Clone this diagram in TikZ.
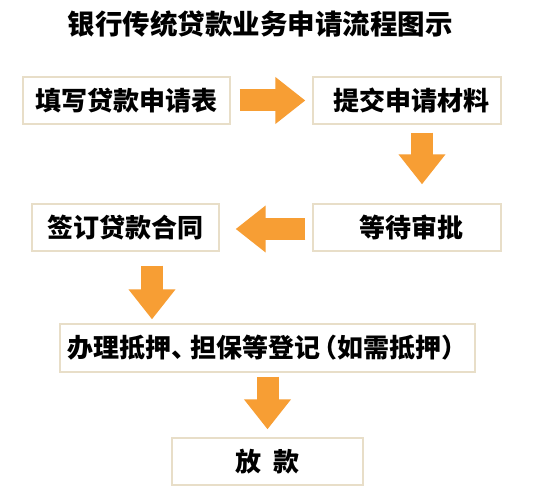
\documentclass[tikz,border=0pt]{standalone}
\usepackage{fontspec}
\setmainfont{Noto Sans CJK SC}
\usetikzlibrary{arrows.meta,calc}
\definecolor{boxline}{RGB}{232,222,200}
\definecolor{arroworange}{RGB}{247,158,52}
\begin{document}
\begin{tikzpicture}[x=1pt,y=-1pt,
  stepbox/.style={draw=boxline,line width=1.3pt,fill=white,inner sep=0pt,
    font=\fontsize{26}{30}\selectfont\bfseries},
  bigarrow/.style={draw=arroworange,line width=22pt,line cap=butt,
    -{Triangle[length=30pt,width=45pt,fill=arroworange]}}]
\useasboundingbox[fill=white] (0,0) rectangle (535,500);
\node[font=\fontsize{27.5}{32}\selectfont\bfseries] (title) at (260,24.5) {银行传统贷款业务申请流程图示};
\node[stepbox,minimum width=207pt,minimum height=47pt] (b1) at (126.5,100.5) {填写贷款申请表};
\node[stepbox,minimum width=188pt,minimum height=47pt] (b2) at (407,100.5) {\hspace*{8pt}提交申请材料};
\node[stepbox,minimum width=187pt,minimum height=47pt] (b3) at (125.5,227.5) {签订贷款合同};
\node[stepbox,minimum width=188pt,minimum height=47pt] (b4) at (407,227.5) {\hspace*{9pt}等待审批};
\node[stepbox,minimum width=415pt,minimum height=48pt] (b5) at (267.5,348) {办理抵押、\hspace{-0.3em}担保等登记\hspace{-0.35em}（如需抵押）\hspace{-0.2em}};
\node[stepbox,minimum width=191pt,minimum height=47pt] (b6) at (267.5,461.5) {放\hspace{0.45em}款};
\draw[bigarrow] ($(b1.east)+(9,0)$) -- ($(b2.west)+(-7,0)$);
\draw[bigarrow] ($(b2.south)+(15,8)$) -- ($(b4.north)+(15,-19)$);
\draw[bigarrow] ($(b4.west)+(-7,1.5)$) -- ($(b3.east)+(16,1.5)$);
\draw[bigarrow] ($(b3.south)+(26.5,14)$) -- ($(b5.north)+(-115.5,-4)$);
\draw[bigarrow] ($(b5.south)+(0,4)$) -- ($(b6.north)+(0,-8)$);
\end{tikzpicture}
\end{document}
